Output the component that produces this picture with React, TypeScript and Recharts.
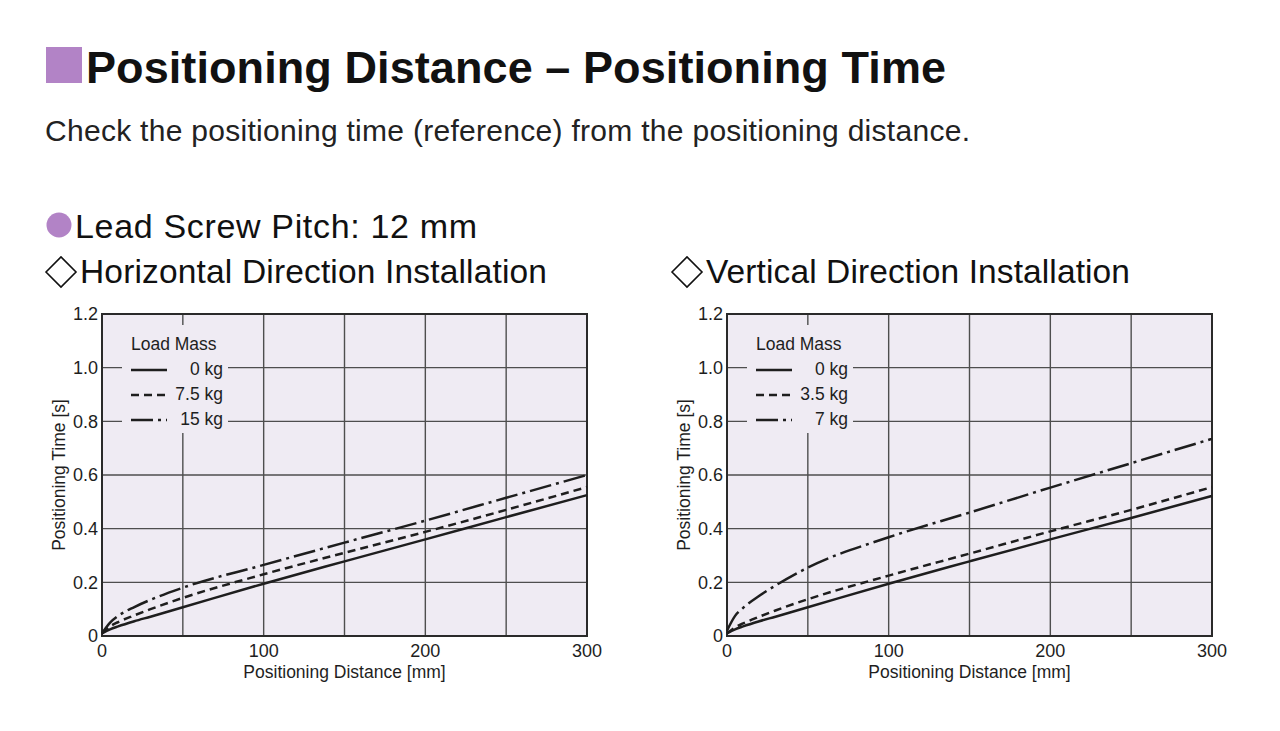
import {
  CartesianGrid,
  Legend,
  Line,
  LineChart,
  ReferenceArea,
  XAxis,
  YAxis,
} from 'recharts';

const FONT = '"Liberation Sans", Arial, Helvetica, sans-serif';
const PLOT_BG = '#efebf3';
const INK = '#1e1e1e';
const PURPLE = '#b283c6';

const distance = [0, 5, 10, 20, 30, 50, 100, 150, 200, 250, 300];

// horizontal installation, load mass 0 / 7.5 / 15 kg
const horiz0kg = [0.01, 0.025, 0.036, 0.055, 0.072, 0.107, 0.195, 0.278, 0.36, 0.443, 0.525];
const horiz75kg = [0.01, 0.036, 0.052, 0.077, 0.1, 0.142, 0.23, 0.31, 0.388, 0.47, 0.555];
const horiz15kg = [0.01, 0.05, 0.075, 0.108, 0.135, 0.18, 0.265, 0.348, 0.43, 0.515, 0.6];

// vertical installation, load mass 0 / 3.5 / 7 kg
const vert0kg = [0.01, 0.025, 0.036, 0.055, 0.072, 0.107, 0.195, 0.278, 0.36, 0.44, 0.522];
const vert35kg = [0.01, 0.032, 0.047, 0.072, 0.095, 0.137, 0.225, 0.307, 0.39, 0.47, 0.555];
const vert7kg = [0.02, 0.075, 0.105, 0.15, 0.188, 0.255, 0.368, 0.46, 0.553, 0.644, 0.735];

const xTicks = [0, 50, 100, 150, 200, 250, 300];
const yTicks = [0, 0.2, 0.4, 0.6, 0.8, 1.0, 1.2];

const DASHES = ['', '8 5', '22 5 3 5'];

interface Series {
  key: string;
  label: string;
  values: number[];
}

const horizSeries: Series[] = [
  { key: 'm0', label: '0 kg', values: horiz0kg },
  { key: 'm1', label: '7.5 kg', values: horiz75kg },
  { key: 'm2', label: '15 kg', values: horiz15kg },
];

const vertSeries: Series[] = [
  { key: 'm0', label: '0 kg', values: vert0kg },
  { key: 'm1', label: '3.5 kg', values: vert35kg },
  { key: 'm2', label: '7 kg', values: vert7kg },
];

function toRows(series: Series[]) {
  return distance.map((d, i) => {
    const row: Record<string, number> = { distance: d };
    series.forEach((s) => {
      row[s.key] = s.values[i];
    });
    return row;
  });
}

function LoadMassLegend({ payload }: any) {
  return (
    <div
      style={{
        background: PLOT_BG,
        width: 106,
        paddingTop: 6,
        paddingBottom: 1,
        fontFamily: FONT,
        fontSize: 17.5,
        color: INK,
      }}
    >
      <div style={{ height: 26, lineHeight: '26px', paddingLeft: 9 }}>Load Mass</div>
      {(payload || []).map((entry: any, i: number) => (
        <div key={i} style={{ display: 'flex', alignItems: 'center', height: 25 }}>
          <svg width={38} height={6} style={{ marginLeft: 9 }}>
            <line
              x1={0}
              y1={3}
              x2={36}
              y2={3}
              stroke={INK}
              strokeWidth={2.5}
              strokeDasharray={entry.payload?.strokeDasharray || undefined}
            />
          </svg>
          <span style={{ marginLeft: 'auto', marginRight: 5 }}>{entry.value}</span>
        </div>
      ))}
    </div>
  );
}

function YTitle({ viewBox }: any) {
  const x = viewBox.x + 7;
  const y = viewBox.y + viewBox.height / 2;
  return (
    <text
      x={x}
      y={y}
      transform={`rotate(-90, ${x}, ${y})`}
      textAnchor="middle"
      dominantBaseline="central"
      fontFamily={FONT}
      fontSize={17.5}
      fill={INK}
    >
      Positioning Time [s]
    </text>
  );
}

function XTitle({ viewBox }: any) {
  return (
    <text
      x={viewBox.x + viewBox.width / 2}
      y={viewBox.y + 42}
      textAnchor="middle"
      fontFamily={FONT}
      fontSize={17.5}
      fill={INK}
    >
      Positioning Distance [mm]
    </text>
  );
}

function TimeChart({ series }: { series: Series[] }) {
  const data = toRows(series);
  const tickStyle = { fontSize: 18, fill: INK, fontFamily: FONT };
  return (
    <LineChart width={620} height={400} data={data} margin={{ top: 14, right: 33, left: 52, bottom: 16 }}>
      <CartesianGrid stroke="#4e4e4e" strokeWidth={1.4} fill={PLOT_BG} fillOpacity={1} />
      <XAxis
        dataKey="distance"
        type="number"
        domain={[0, 300]}
        ticks={xTicks}
        tickFormatter={(v: number) => (v % 100 === 0 ? String(v) : '')}
        axisLine={false}
        tickLine={false}
        tickSize={0}
        tickMargin={8}
        height={48}
        tick={tickStyle}
        interval={0}
        label={(p: any) => <XTitle {...p} />}
      />
      <YAxis
        type="number"
        domain={[0, 1.2]}
        ticks={yTicks}
        tickFormatter={(v: number) => (v === 0 ? '0' : v.toFixed(1))}
        axisLine={false}
        tickLine={false}
        tickSize={0}
        tickMargin={4}
        width={50}
        tick={tickStyle}
        interval={0}
        label={(p: any) => <YTitle {...p} />}
      />
      <ReferenceArea x1={0} x2={300} y1={0} y2={1.2} fill="none" stroke="#2a2a2a" strokeWidth={2} ifOverflow="visible" />
      {series.map((s, i) => (
        <Line
          key={s.key}
          type="monotone"
          dataKey={s.key}
          name={s.label}
          stroke={INK}
          strokeWidth={2.5}
          strokeDasharray={DASHES[i] || undefined}
          dot={false}
          activeDot={false}
          isAnimationActive={false}
        />
      ))}
      <Legend
        layout="vertical"
        align="center"
        verticalAlign="middle"
        itemSorter="dataKey"
        content={(p: any) => <LoadMassLegend {...p} />}
        wrapperStyle={{ left: 122, top: 25, width: 106 }}
      />
    </LineChart>
  );
}

export default function App() {
  return (
    <div style={{ position: 'absolute', left: 0, top: 0, width: 1280, height: 731, background: '#fff' }}>
      <svg width={1280} height={300} style={{ position: 'absolute', left: 0, top: 0 }}>
        <rect x={46} y={47} width={36} height={36} fill={PURPLE} />
        <text x={86} y={83} fontFamily={FONT} fontWeight="bold" fontSize={45} fill="#111" textLength={860}>
          Positioning Distance – Positioning Time
        </text>
        <text x={45} y={141} fontFamily={FONT} fontSize={30} fill="#222" textLength={925}>
          Check the positioning time (reference) from the positioning distance.
        </text>
        <circle cx={59} cy={225} r={12.5} fill={PURPLE} />
        <text x={75} y={238} fontFamily={FONT} fontSize={34} fill="#111" textLength={402}>
          Lead Screw Pitch: 12 mm
        </text>
        <polygon points="46,272 61,257 76,272 61,287" fill="none" stroke="#111" strokeWidth={1.6} />
        <text x={80} y={283} fontFamily={FONT} fontSize={33.5} fill="#111" textLength={467}>
          Horizontal Direction Installation
        </text>
        <polygon points="672,272 687,257 702,272 687,287" fill="none" stroke="#111" strokeWidth={1.6} />
        <text x={706} y={283} fontFamily={FONT} fontSize={33.5} fill="#111" textLength={424}>
          Vertical Direction Installation
        </text>
      </svg>
      <div style={{ position: 'absolute', left: 0, top: 300 }}>
        <TimeChart series={horizSeries} />
      </div>
      <div style={{ position: 'absolute', left: 625, top: 300 }}>
        <TimeChart series={vertSeries} />
      </div>
    </div>
  );
}
